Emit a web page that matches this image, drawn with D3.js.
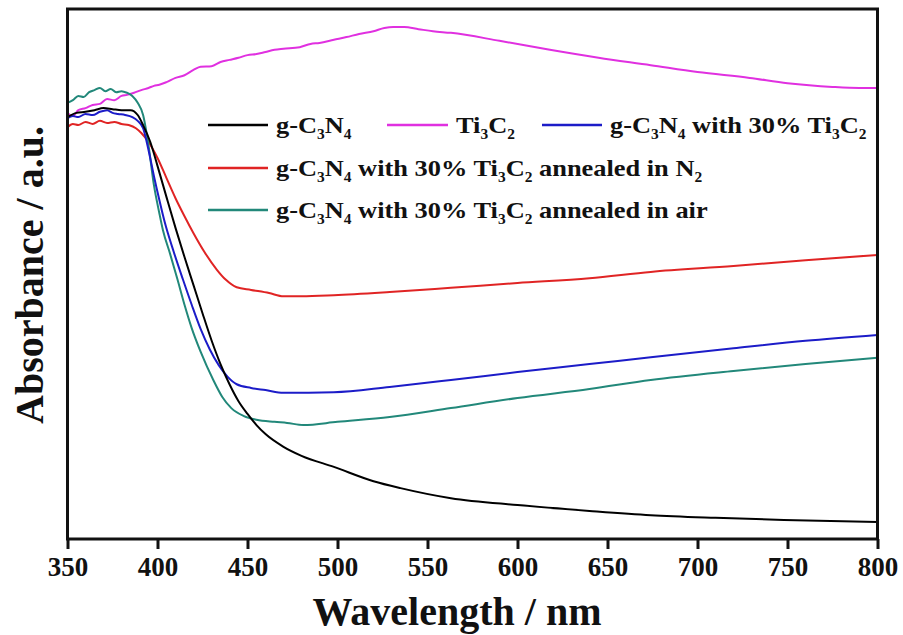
<!DOCTYPE html>
<html>
<head>
<meta charset="utf-8">
<script src="https://cdn.jsdelivr.net/npm/d3@7/dist/d3.min.js"></script>
<style>
  html, body { margin: 0; padding: 0; background: #fff; }
  svg { display: block; }
  text { font-family: "Liberation Serif", "Times New Roman", serif; font-weight: bold; fill: #111; }
</style>
</head>
<body>
<svg id="chart" width="903" height="635"></svg>
<script>
// ---- data (wavelength in nm, absorbance in arbitrary units) ----
const xTicks = [350, 400, 450, 500, 550, 600, 650, 700, 750, 800];

const gC3N4_w = [350,355,360,365,370,375,380,385,389,392,396,400,405,410,415,420,425,430,435,440,445,450,455,460,470,480,498,520,535,563,600,640,674,710,748,800];
const gC3N4_a = [0.796,0.804,0.806,0.809,0.813,0.811,0.809,0.809,0.800,0.781,0.749,0.704,0.645,0.587,0.532,0.479,0.426,0.375,0.330,0.292,0.260,0.236,0.215,0.198,0.174,0.157,0.136,0.109,0.096,0.077,0.064,0.053,0.045,0.040,0.036,0.032];

const ti3c2_w = [350,353,356,360,364,368,372,376,380,383,387,391,395,398,401,405,410,415,420,424,430,435,440,445,450,455,460,465,470,479,485,490,498,505,512,520,526,531,537,545,553,563,590,618,645,674,700,729,750,775,790,800];
const ti3c2_a = [0.804,0.798,0.809,0.813,0.819,0.821,0.830,0.828,0.836,0.838,0.842,0.847,0.851,0.855,0.857,0.862,0.870,0.875,0.885,0.891,0.892,0.900,0.904,0.908,0.913,0.915,0.919,0.923,0.925,0.928,0.934,0.936,0.942,0.947,0.953,0.958,0.964,0.966,0.966,0.962,0.958,0.955,0.940,0.923,0.908,0.894,0.881,0.870,0.860,0.853,0.851,0.851];

const blue_w = [350,353,356,360,364,368,372,375,378,382,386,389,392,395,398,401,404,409,414,419,424,429,434,439,444,452,460,470,498,529,563,600,640,674,720,760,800];
const blue_a = [0.794,0.798,0.796,0.802,0.800,0.806,0.809,0.804,0.802,0.800,0.796,0.789,0.775,0.734,0.685,0.640,0.598,0.542,0.491,0.442,0.396,0.358,0.328,0.306,0.292,0.285,0.281,0.276,0.277,0.287,0.300,0.315,0.330,0.343,0.360,0.374,0.385];

const n2_w = [350,353,356,360,364,368,372,376,380,384,388,391,395,400,405,410,415,420,426,433,438,444,452,462,470,480,498,529,563,600,640,674,720,760,800];
const n2_a = [0.777,0.783,0.781,0.787,0.783,0.789,0.785,0.787,0.783,0.781,0.775,0.766,0.749,0.719,0.681,0.643,0.609,0.577,0.542,0.508,0.489,0.475,0.470,0.464,0.458,0.458,0.460,0.466,0.474,0.483,0.492,0.504,0.515,0.526,0.536];

const air_w = [350,353,356,359,362,365,368,371,374,377,380,383,386,389,392,395,398,401,403,407,411,415,419,424,431,436,441,448,455,465,472,481,500,529,563,600,640,674,720,760,800];
const air_a = [0.823,0.828,0.836,0.834,0.843,0.847,0.851,0.845,0.849,0.843,0.845,0.842,0.836,0.823,0.800,0.743,0.668,0.615,0.583,0.538,0.491,0.442,0.398,0.353,0.300,0.268,0.247,0.232,0.225,0.221,0.219,0.215,0.221,0.230,0.247,0.266,0.283,0.300,0.317,0.330,0.342];

const seriesNames = ["g-C3N4", "Ti3C2", "g-C3N4 with 30% Ti3C2", "g-C3N4 with 30% Ti3C2 annealed in N2", "g-C3N4 with 30% Ti3C2 annealed in air"];
const seriesColors = ["#000000", "#e030e0", "#1c1cc8", "#e02424", "#22887a"];

// ---- build ----
const series = [
  {w: gC3N4_w, a: gC3N4_a},
  {w: ti3c2_w, a: ti3c2_a},
  {w: blue_w, a: blue_a},
  {w: n2_w, a: n2_a},
  {w: air_w, a: air_a}
].map((s, i) => ({name: seriesNames[i], color: seriesColors[i], pts: s.w.map((w, j) => [w, s.a[j]])}));

const svg = d3.select("#chart");
const L = 67.5, R = 877.5, T = 9, B = 539;

const x = d3.scaleLinear().domain([350, 800]).range([L, R]);
const y = d3.scaleLinear().domain([0, 1]).range([B, T]);

const line = d3.line().x(d => x(d[0])).y(d => y(d[1])).curve(d3.curveMonotoneX);

const plot = svg.append("g");
plot.append("defs").append("clipPath").attr("id", "clip")
  .append("rect").attr("x", L).attr("y", T).attr("width", R - L).attr("height", B - T);

const curves = plot.append("g").attr("clip-path", "url(#clip)");
// draw order: magenta, red, teal, blue, black
[1, 3, 4, 2, 0].forEach(i => {
  curves.append("path").datum(series[i].pts)
    .attr("d", line).attr("fill", "none")
    .attr("stroke", series[i].color).attr("stroke-width", 2)
    .attr("stroke-linejoin", "round");
});

// frame
svg.append("rect").attr("x", L).attr("y", T).attr("width", R - L).attr("height", B - T)
  .attr("fill", "none").attr("stroke", "#111").attr("stroke-width", 3);

// x axis
const xAxis = d3.axisBottom(x).tickValues(xTicks).tickSize(10).tickSizeOuter(0).tickPadding(8);
const gx = svg.append("g").attr("transform", `translate(0,${B})`).call(xAxis);
gx.select(".domain").remove();
gx.selectAll(".tick line").attr("stroke", "#111").attr("stroke-width", 3);
gx.selectAll(".tick text").attr("font-size", 27).attr("font-family", "Liberation Serif, serif")
  .attr("font-weight", "bold").attr("fill", "#222").attr("dy", "0.7em");

// axis titles
svg.append("text").attr("x", 457).attr("y", 625).attr("text-anchor", "middle")
  .attr("font-size", 40).text("Wavelength / nm");
svg.append("text").attr("transform", "translate(43,275) rotate(-90)").attr("text-anchor", "middle")
  .attr("font-size", 40).text("Absorbance / a.u.");

// legend
function richLabel(sel, name) {
  // subscripts: digit following C, N or Ti (C3N4, Ti3C2, N2)
  const re = /(C|N|Ti)(\d)/g;
  let last = 0, m, shifted = false;
  while ((m = re.exec(name)) !== null) {
    const t = sel.append("tspan").text(name.slice(last, m.index) + m[1]);
    if (shifted) t.attr("dy", -6);
    sel.append("tspan").attr("font-size", 14).attr("dy", 6).text(m[2]);
    shifted = true;
    last = m.index + m[0].length;
  }
  const rest = name.slice(last);
  if (rest.length) {
    const t = sel.append("tspan").text(rest);
    if (shifted) t.attr("dy", -6);
  }
}

const legendItems = [
  {i: 0, x1: 208, x2: 268, ly: 125},
  {i: 1, x1: 387, x2: 448, ly: 125},
  {i: 2, x1: 542, x2: 602, ly: 125},
  {i: 3, x1: 208, x2: 268, ly: 168},
  {i: 4, x1: 208, x2: 268, ly: 210}
];
const lg = svg.append("g");
legendItems.forEach(it => {
  const s = series[it.i];
  lg.append("line").attr("x1", it.x1).attr("x2", it.x2).attr("y1", it.ly).attr("y2", it.ly)
    .attr("stroke", s.color).attr("stroke-width", 2.5);
  const t = lg.append("text")
    .attr("transform", `translate(${it.x2 + 8},${it.ly + 8}) scale(1.1,1)`)
    .attr("font-size", 24);
  richLabel(t, s.name);
});
</script>
</body>
</html>
